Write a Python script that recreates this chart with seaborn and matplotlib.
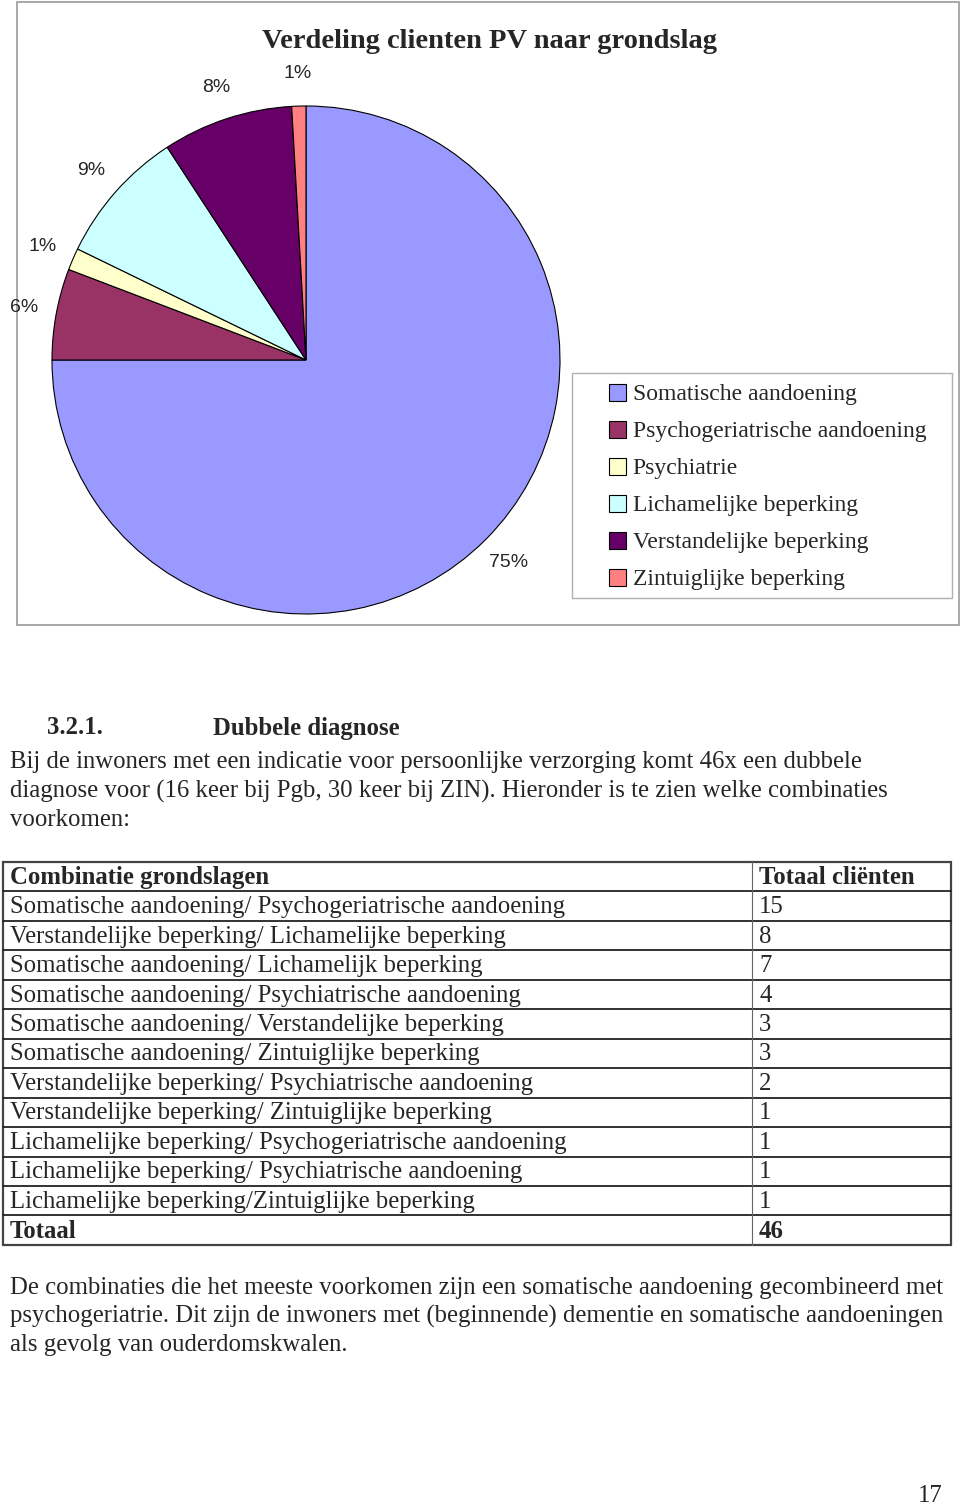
import seaborn as sns
import matplotlib.pyplot as plt
from matplotlib.patches import Rectangle, Patch

sns.set_theme(style="white")
plt.rcParams['font.family'] = ['Liberation Serif', 'DejaVu Serif']

# pie data (percentages)
grondslagen = ["Somatische aandoening", "Psychogeriatrische aandoening", "Psychiatrie",
               "Lichamelijke beperking", "Verstandelijke beperking", "Zintuiglijke beperking"]
aandeel = [75.0, 5.8, 1.4, 8.6, 8.3, 0.9]
kleuren = ["#9999FF", "#993366", "#FFFFCC", "#CCFFFF", "#660066", "#FF8080"]

# table data
combinaties = ["Somatische aandoening/ Psychogeriatrische aandoening",
               "Verstandelijke beperking/ Lichamelijke beperking",
               "Somatische aandoening/ Lichamelijk beperking",
               "Somatische aandoening/ Psychiatrische aandoening",
               "Somatische aandoening/ Verstandelijke beperking",
               "Somatische aandoening/ Zintuiglijke beperking",
               "Verstandelijke beperking/ Psychiatrische aandoening",
               "Verstandelijke beperking/ Zintuiglijke beperking",
               "Lichamelijke beperking/ Psychogeriatrische aandoening",
               "Lichamelijke beperking/ Psychiatrische aandoening",
               "Lichamelijke beperking/Zintuiglijke beperking"]
aantallen = [15, 8, 7, 4, 3, 3, 2, 1, 1, 1, 1]

W, H = 960, 1507
fig = plt.figure(figsize=(W / 100, H / 100), dpi=100)

# page axes in pixel coordinates
page = fig.add_axes([0, 0, 1, 1])
page.set_xlim(0, W)
page.set_ylim(H, 0)
page.axis("off")

# chart frame
page.add_patch(Rectangle((17, 2), 942, 623, fill=False, edgecolor="#9a9a9a", lw=1.2))
page.text(489, 42, "Verdeling clienten PV naar grondslag", ha="center", va="center",
          fontsize=20.5, fontweight="bold")

# pie
cx, cy, r = 306, 360, 254
pie_ax = fig.add_axes([(cx - r) / W, 1 - (cy + r) / H, 2 * r / W, 2 * r / H])
pie_ax.patch.set_alpha(0)
wedges, _, pct = pie_ax.pie(aandeel, colors=kleuren, startangle=90, counterclock=False,
                            autopct="%.0f%%", pctdistance=1.13,
                            wedgeprops=dict(edgecolor="black", linewidth=0.8),
                            textprops=dict(family="Liberation Sans", fontsize=14))
pie_ax.set_xlim(-1, 1)
pie_ax.set_ylim(-1, 1)
pie_ax.set_aspect("equal")

# legend: frame drawn on the page, entries placed inside
page.add_patch(Rectangle((572, 373), 380, 225, fill=False, edgecolor="#b0b0b0", lw=1.0))
handles = [Patch(facecolor=c, edgecolor="black", lw=0.8) for c in kleuren]
leg = fig.legend(handles, grondslagen, loc="upper left",
                 bbox_to_anchor=(604 / W, 1 - 379 / H), frameon=False,
                 prop=dict(family="Liberation Serif", size=17), handlelength=0.72,
                 handleheight=0.72, handletextpad=0.3, labelspacing=0.65,
                 borderpad=0.2, borderaxespad=0)

# text
fs = 17.8
page.text(47, 728, "3.2.1.", fontsize=fs, fontweight="bold", va="center")
page.text(213, 728, "Dubbele diagnose", fontsize=fs, fontweight="bold", va="center")
intro = ["Bij de inwoners met een indicatie voor persoonlijke verzorging komt 46x een dubbele",
         "diagnose voor (16 keer bij Pgb, 30 keer bij ZIN). Hieronder is te zien welke combinaties",
         "voorkomen:"]
for i, line in enumerate(intro):
    page.text(10, 762 + 29 * i, line, fontsize=fs, va="center")

# table
top, rh = 862, 29.45
left, mid, right = 3, 752, 951
nrows = len(combinaties) + 2
bottom = top + rh * nrows
page.text(10, top + rh / 2 + 1, "Combinatie grondslagen", fontsize=fs, fontweight="bold", va="center")
page.text(759, top + rh / 2 + 1, "Totaal cliënten", fontsize=fs, fontweight="bold", va="center")
for i, (c, n) in enumerate(zip(combinaties, aantallen), start=1):
    y = top + rh * i + rh / 2 + 1
    page.text(10, y, c, fontsize=fs, va="center")
    page.text(759, y, str(n), fontsize=fs, va="center")
yt = top + rh * (nrows - 1) + rh / 2 + 1
page.text(10, yt, "Totaal", fontsize=fs, fontweight="bold", va="center")
page.text(759, yt, str(sum(aantallen)), fontsize=fs, fontweight="bold", va="center")
for i in range(1, nrows):
    page.plot([left, right], [top + rh * i] * 2, color="#222222", lw=1.3)
page.plot([mid, mid], [top, bottom], color="#666666", lw=0.8)
page.add_patch(Rectangle((left, top), right - left, bottom - top, fill=False,
                         edgecolor="#444444", lw=1.6))

outro = ["De combinaties die het meeste voorkomen zijn een somatische aandoening gecombineerd met",
         "psychogeriatrie. Dit zijn de inwoners met (beginnende) dementie en somatische aandoeningen",
         "als gevolg van ouderdomskwalen."]
for i, line in enumerate(outro):
    page.text(10, 1288 + 28.5 * i, line, fontsize=fs, va="center")

page.text(943, 1496, "17", fontsize=fs, ha="right", va="center")

fig.savefig("out.png", dpi=100)
